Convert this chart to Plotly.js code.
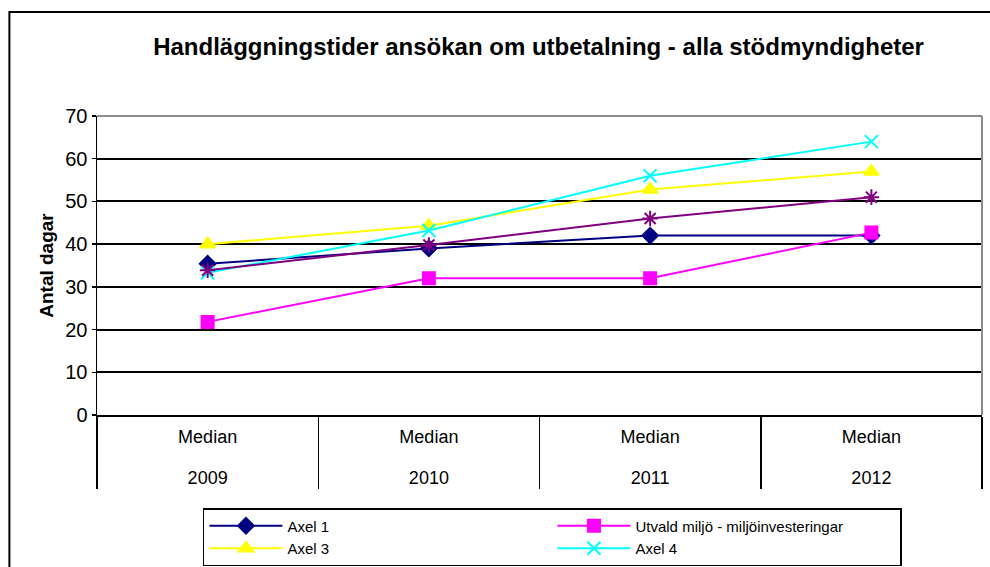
<!DOCTYPE html>
<html>
<head>
<meta charset="utf-8">
<script src="https://cdn.plot.ly/plotly-3.0.1.min.js"></script>
<style>html,body{margin:0;padding:0;background:#fff;}#chart{width:990px;height:567px;}</style>
</head>
<body>
<div id="chart"></div>
<script>
// ---- data ----
var years = ['2009', '2010', '2011', '2012'];
var statLabels = ['Median', 'Median', 'Median', 'Median'];
var seriesNames = ['Axel 1', 'Utvald miljö - miljöinvesteringar', 'Axel 3', 'Axel 4', 'Serie 5'];
var axel1 = [35.4, 39, 42, 42];
var utvald = [21.8, 32, 32, 42.7];
var axel3 = [40, 44.3, 52.8, 57];
var axel4 = [33.3, 43.2, 56, 64];
var serie5 = [33.9, 39.8, 46, 51];
var yTicks = [0, 10, 20, 30, 40, 50, 60, 70];

// outer (year) labels get an empty first line so they sit one row lower, as in the original
var xcat = [years.map(function (y) { return '<br>' + y; }), statLabels];

function tr(name, y, color, symbol, msize, extra) {
  var t = {
    type: 'scatter', mode: 'lines+markers', name: name,
    x: xcat, y: y,
    line: {color: color, width: 2},
    marker: {color: color, symbol: symbol, size: msize, line: {color: color, width: 2}}
  };
  for (var k in extra) t[k] = extra[k];
  return t;
}

var data = [
  tr(seriesNames[0], axel1, '#000080', 'diamond', 12, {}),
  tr(seriesNames[1], utvald, '#FF00FF', 'square', 12, {}),
  tr(seriesNames[2], axel3, '#FFFF00', 'triangle-up', 13, {}),
  tr(seriesNames[3], axel4, '#00FFFF', 'x-thin-open', 13, {}),
  tr(seriesNames[4], serie5, '#800080', 'asterisk-open', 13, {showlegend: false})
];

var layout = {
  width: 990, height: 567,
  margin: {l: 97, r: 8, t: 116, b: 152, pad: 0},
  paper_bgcolor: '#fff', plot_bgcolor: '#fff',
  font: {family: 'Liberation Sans, Arial, sans-serif', color: '#000', size: 16},
  title: {
    text: '<b>Handläggningstider ansökan om utbetalning - alla stödmyndigheter</b>',
    font: {size: 24, color: '#000'},
    xref: 'container', yref: 'container',
    x: 0.544, xanchor: 'center', y: 0.918, yanchor: 'middle'
  },
  xaxis: {
    type: 'multicategory',
    range: [-0.5, 3.5],
    showdividers: true, dividercolor: '#000', dividerwidth: 1.5,
    showline: true, linecolor: '#000', linewidth: 2,
    showgrid: false, zeroline: false, ticks: '',
    ticklabelstandoff: 4,
    tickfont: {size: 18, color: '#000'}
  },
  yaxis: {
    range: [0, 70], tickvals: yTicks,
    showgrid: true, gridcolor: '#000', gridwidth: 2,
    zeroline: false,
    showline: true, linecolor: '#000', linewidth: 1.5,
    ticks: 'outside', ticklen: 4, tickcolor: '#000', tickwidth: 1.5,
    tickfont: {size: 20, color: '#000'},
    title: {text: '<b>Antal dagar</b>', font: {size: 19, color: '#000'}, standoff: 6}
  },
  showlegend: true,
  legend: {
    orientation: 'h', traceorder: 'normal',
    xref: 'container', yref: 'container',
    x: 0.205, xanchor: 'left', y: 0.104, yanchor: 'top',
    bordercolor: '#000', borderwidth: 1.5, bgcolor: '#fff',
    font: {size: 15, color: '#000'},
    itemwidth: 73,
    entrywidth: 260
  },
  shapes: [
    {type: 'rect', xref: 'paper', yref: 'paper', x0: -0.099, x1: 1.2, y0: -0.8, y1: 1.348,
     line: {color: '#000', width: 2}, layer: 'below'},
    {type: 'line', xref: 'paper', yref: 'paper', x0: 0, x1: 1, y0: 1, y1: 1,
     line: {color: '#8c8c8c', width: 2}, layer: 'above'},
    {type: 'line', xref: 'paper', yref: 'paper', x0: 1, x1: 1, y0: 0, y1: 1,
     line: {color: '#8c8c8c', width: 2}, layer: 'above'}
  ]
};

Plotly.newPlot('chart', data, layout, {displayModeBar: false, staticPlot: true});
</script>
</body>
</html>
